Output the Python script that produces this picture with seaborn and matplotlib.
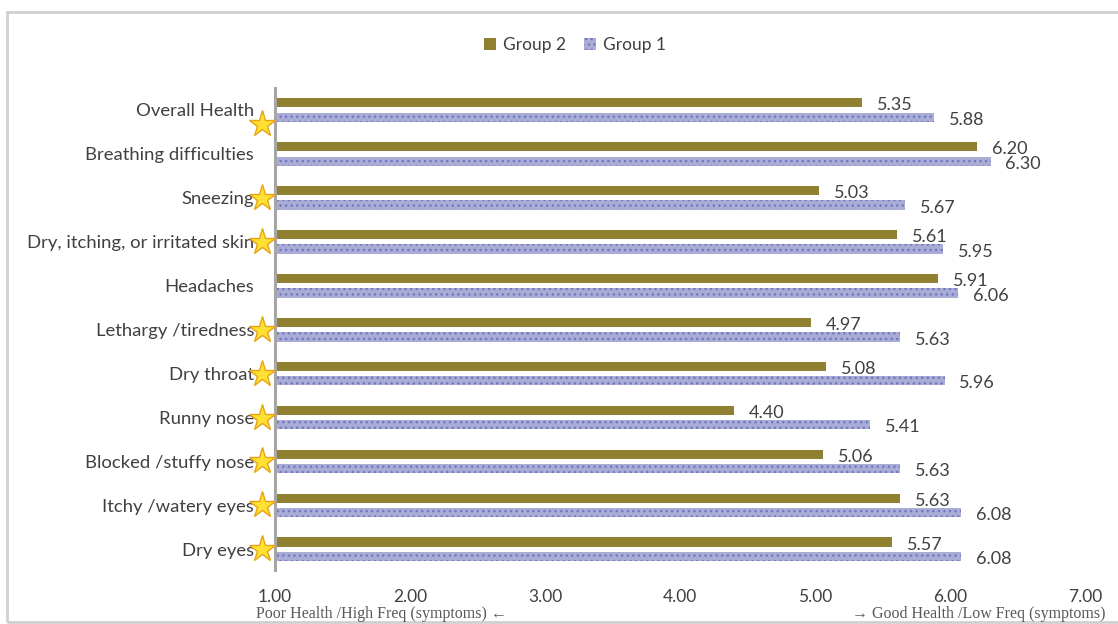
import pandas as pd
import numpy as np
import matplotlib.pyplot as plt
import seaborn as sns
from matplotlib.patches import Rectangle

categories = ["Overall Health", "Breathing difficulties", "Sneezing",
              "Dry, itching, or irritated skin", "Headaches", "Lethargy /tiredness",
              "Dry throat", "Runny nose", "Blocked /stuffy nose",
              "Itchy /watery eyes", "Dry eyes"]
group2 = [5.35, 6.20, 5.03, 5.61, 5.91, 4.97, 5.08, 4.40, 5.06, 5.63, 5.57]
group1 = [5.88, 6.30, 5.67, 5.95, 6.06, 5.63, 5.96, 5.41, 5.63, 6.08, 6.08]
starred = [True, False, True, True, False, True, True, True, True, True, True]
xticks = [1, 2, 3, 4, 5, 6, 7]

df = pd.DataFrame({
    "Symptom": categories * 2,
    "Score": group2 + group1,
    "Group": ["Group 2"] * len(categories) + ["Group 1"] * len(categories),
})

sns.set_style("white")
plt.rcParams['font.family'] = ['Lato', 'DejaVu Sans']
plt.rcParams['hatch.linewidth'] = 1.0

fig = plt.figure(figsize=(11.18, 6.24), dpi=100)
ax = fig.add_axes([275 / 1118, 1 - 570 / 624, 810 / 1118, 482 / 624])

sns.barplot(data=df, y="Symptom", x="Score", hue="Group", orient="h",
            hue_order=["Group 2", "Group 1"],
            palette={"Group 2": "#A08A22", "Group 1": "#A2A7DC"},
            width=0.66, gap=0.36, linewidth=0, ax=ax)

for p in ax.containers[1]:
    p.set_hatch("...")
    p.set_edgecolor("#7277C4")
    p.set_linewidth(0)

# value labels
for cont, vals in zip(ax.containers, [group2, group1]):
    for p, v in zip(cont, vals):
        yc = p.get_y() + p.get_height() / 2
        ax.text(v + 0.11, yc + 0.06, f"{v:.2f}", va="center", ha="left",
                fontsize=13, color="#404040")

ax.set_xlim(1, 7)
ax.set_ylim(10.47, -0.5)
ax.set_xticks(xticks)
ax.set_xticklabels([f"{t:.2f}" for t in xticks], fontsize=12.5, color="#404040")
ax.tick_params(axis="x", length=0, pad=14)
ax.tick_params(axis="y", length=0, pad=15, labelsize=13.3, labelcolor="#404040")
ax.set_xlabel("")
ax.set_ylabel("")
for s in ["top", "right", "bottom"]:
    ax.spines[s].set_visible(False)
ax.spines["left"].set_color("#A6A6A6")
ax.spines["left"].set_linewidth(2.2)

# stars
for i, st in enumerate(starred):
    if st:
        yy = i + 0.32 if i == 0 else i
        ax.plot(0.904, yy, marker="*", markersize=20, color="#FFE033",
                markeredgecolor="#E8A317", markeredgewidth=1, clip_on=False, zorder=5)

leg = ax.legend(handles=ax.containers[:], labels=["Group 2", "Group 1"], ncol=2,
                frameon=False, fontsize=12.5, loc="center",
                bbox_to_anchor=(575 / 1118, 1 - 45 / 624),
                bbox_transform=fig.transFigure, handlelength=0.7, handleheight=0.7,
                handletextpad=0.4, columnspacing=1.0)
for t in leg.get_texts():
    t.set_color("#404040")

fig.text(256 / 1118, 1 - 614 / 624, "Poor Health /High Freq (symptoms) \u2190",
         family=["Liberation Serif", "DejaVu Serif"], fontsize=11.5, color="#595959",
         ha="left", va="center")
fig.text(1105 / 1118, 1 - 614 / 624, "\u2192 Good Health /Low Freq (symptoms)",
         family=["Liberation Serif", "DejaVu Serif"], fontsize=11.5, color="#595959",
         ha="right", va="center")

fig.add_artist(Rectangle((7 / 1118, 2 / 624), 1.1, 1 - 14 / 624,
                         transform=fig.transFigure, fill=False,
                         edgecolor="#D0D0D0", linewidth=2))

plt.savefig("out.png", dpi=100)
